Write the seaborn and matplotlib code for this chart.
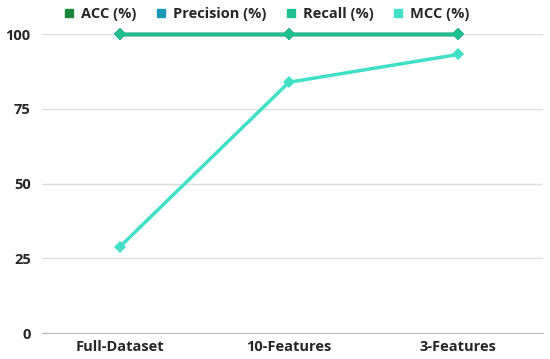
import matplotlib
matplotlib.use("Agg")
import matplotlib.pyplot as plt
import seaborn as sns
import pandas as pd
from matplotlib.lines import Line2D

categories = ["Full-Dataset", "10-Features", "3-Features"]
acc = [100, 100, 100]
precision = [100, 100, 100]
recall = [100, 100, 100]
mcc = [28.8, 83.9, 93.2]
series_names = ["ACC (%)", "Precision (%)", "Recall (%)", "MCC (%)"]
colors = ["#17873a", "#1a98b8", "#1fbf8f", "#40e0c8"]
yticks = [0, 25, 50, 75, 100]

sns.set_style("white")
plt.rcParams['font.family'] = ['Open Sans', 'DejaVu Sans']

fig = plt.figure(figsize=(5.5, 3.59), dpi=100)
ax = fig.add_axes([0.076, 0.072, 0.911, 0.833])

for name, vals, col in zip(series_names, [acc, precision, recall, mcc], colors):
    d = pd.DataFrame({"x": list(range(len(categories))), "val": vals})
    sns.lineplot(data=d, x="x", y="val", color=col, marker="D", markersize=6,
                 markeredgewidth=0, linewidth=2.5, ax=ax, clip_on=False)

ax.set_xlim(-0.46, 2.5)
ax.set_ylim(0, 100)
ax.set_yticks(yticks)
ax.set_yticklabels([str(t) for t in yticks], fontweight="bold", fontsize=10.5)
ax.set_xticks(range(len(categories)))
ax.set_xticklabels(categories, fontweight="bold", fontsize=10.5)
ax.set_xlabel("")
ax.set_ylabel("")
ax.grid(axis="y", color="#dddddd", linewidth=1)
ax.set_axisbelow(True)
for s in ["top", "right", "left"]:
    ax.spines[s].set_visible(False)
ax.spines["bottom"].set_color("#bbbbbb")
ax.tick_params(axis="y", length=0, pad=8)
ax.tick_params(axis="x", length=0, pad=5)

handles = [Line2D([], [], marker="s", linestyle="", color=c, markersize=6) for c in colors]
fig.legend(handles, series_names, loc="upper center", bbox_to_anchor=(0.485, 1.018),
           ncol=4, frameon=False, prop={"weight": "bold", "size": 10.5},
           handlelength=0.7, handletextpad=0.5, columnspacing=1.3)

fig.savefig("out.png", dpi=100)
